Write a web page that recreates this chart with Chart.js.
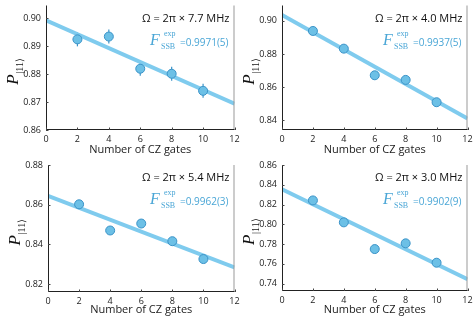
<!DOCTYPE html>
<html>
<head>
<meta charset="utf-8">
<script src="https://cdn.jsdelivr.net/npm/chart.js@4.4.1/dist/chart.umd.min.js"></script>
<style>
  body { margin: 0; background: #fff; }
  .wrap { position: relative; width: 473px; height: 316px; overflow: hidden; }
  canvas { position: absolute; }
</style>
</head>
<body>
<div class="wrap">
  <canvas id="c1" style="left:0px;top:0px;width:240px;height:156px"></canvas>
  <canvas id="c2" style="left:236px;top:0px;width:237px;height:156px"></canvas>
  <canvas id="c3" style="left:0px;top:156px;width:240px;height:160px"></canvas>
  <canvas id="c4" style="left:236px;top:156px;width:237px;height:160px"></canvas>
</div>
<script>
// x values: number of CZ gates
const gates = [2, 4, 6, 8, 10];
const fitX = [0, 12];
const xTicks = [0, 2, 4, 6, 8, 10, 12];

// panel 1: 7.7 MHz
const p1 = [0.8924, 0.8934, 0.8819, 0.8801, 0.8740];
const e1 = [0.0025, 0.0025, 0.0025, 0.0025, 0.0025];
const fit1 = [0.8992, 0.8694];
const yt1 = [0.86, 0.87, 0.88, 0.89, 0.90];
// panel 2: 4.0 MHz
const p2 = [0.8939, 0.8832, 0.8671, 0.8643, 0.8508];
const e2 = [0.0025, 0.0025, 0.0025, 0.0025, 0.0025];
const fit2 = [0.9036, 0.8410];
const yt2 = [0.84, 0.86, 0.88, 0.90];
// panel 3: 5.4 MHz
const p3 = [0.8602, 0.8470, 0.8505, 0.8416, 0.8326];
const e3 = [0.0006, 0.0006, 0.0006, 0.0006, 0.0006];
const fit3 = [0.8645, 0.8284];
const yt3 = [0.82, 0.84, 0.86, 0.88];
// panel 4: 3.0 MHz
const p4 = [0.8242, 0.8020, 0.7750, 0.7808, 0.7612];
const e4 = [0.004, 0.004, 0.004, 0.004, 0.004];
const fit4 = [0.8355, 0.7445];
const yt4 = [0.74, 0.76, 0.78, 0.80, 0.82, 0.84, 0.86];

const lineBlue = "#7fcbee";
const dotFill = "#6cc0e6";
const dotEdge = "#3b93c8";
const textBlue = "#4aa6d6";
const font = "'Open Sans', 'DejaVu Sans', sans-serif";

// error bars, frame, inner ticks and annotations
const decor = {
  id: "decor",
  beforeDatasetsDraw(chart, args, opts) {
    const ctx = chart.ctx;
    const xs = chart.scales.x, ys = chart.scales.y;
    ctx.save();
    ctx.strokeStyle = dotEdge;
    ctx.lineWidth = 1.2;
    opts.vals.forEach((v, i) => {
      const px = xs.getPixelForValue(gates[i]);
      ctx.beginPath();
      ctx.moveTo(px, ys.getPixelForValue(v - opts.errs[i]));
      ctx.lineTo(px, ys.getPixelForValue(v + opts.errs[i]));
      ctx.stroke();
    });
    ctx.restore();
  },
  afterDraw(chart, args, opts) {
    const ctx = chart.ctx;
    const a = chart.chartArea;
    const xs = chart.scales.x, ys = chart.scales.y;
    ctx.save();
    // frame
    ctx.strokeStyle = "#999";
    ctx.lineWidth = 1;
    ctx.beginPath();
    ctx.moveTo(a.right - 0.5, a.top);
    ctx.lineTo(a.right - 0.5, a.bottom);
    ctx.stroke();
    ctx.strokeStyle = "#222";
    ctx.beginPath();
    ctx.moveTo(a.left + 0.5, a.top);
    ctx.lineTo(a.left + 0.5, a.bottom - 0.5);
    ctx.lineTo(a.right, a.bottom - 0.5);
    ctx.stroke();
    // inward ticks
    ctx.strokeStyle = "#444";
    xTicks.forEach(t => {
      const px = Math.round(xs.getPixelForValue(t)) + 0.5;
      ctx.beginPath();
      ctx.moveTo(px, a.bottom);
      ctx.lineTo(px, a.bottom - 2.5);
      ctx.stroke();
    });
    ys.ticks.forEach(t => {
      const py = Math.round(ys.getPixelForValue(t.value)) + 0.5;
      ctx.beginPath();
      ctx.moveTo(a.left, py);
      ctx.lineTo(a.left + 2.5, py);
      ctx.stroke();
    });
    // y title P_|11>
    ctx.translate(a.left - 33, (a.top + a.bottom) / 2);
    ctx.rotate(-Math.PI / 2);
    ctx.fillStyle = "#111";
    ctx.textBaseline = "alphabetic";
    ctx.font = "italic 17px 'Liberation Serif', serif";
    ctx.fillText("P", -17, 5);
    ctx.font = "10px 'Liberation Serif', serif";
    ctx.fillText("|11\u27E9", -6, 10);
    ctx.restore();
    // annotations
    ctx.save();
    ctx.textAlign = "right";
    ctx.fillStyle = "#111";
    ctx.font = "11px " + font;
    ctx.fillText(opts.omega, a.right - 5, a.top + 16);
    ctx.fillStyle = textBlue;
    ctx.font = "10px " + font;
    const val = "=" + opts.fid;
    ctx.fillText(val, a.right - 6, a.top + 40);
    const w = ctx.measureText(val).width;
    const bx = a.right - 6 - w;
    ctx.textAlign = "left";
    ctx.font = "8px 'Liberation Serif', serif";
    ctx.fillText("SSB", bx - 19, a.top + 43);
    ctx.fillText("exp", bx - 16, a.top + 30);
    ctx.font = "italic 16px 'Liberation Serif', serif";
    ctx.fillText("F", bx - 30, a.top + 39);
    ctx.restore();
  }
};

function makeChart(id, vals, errs, fit, yMin, yMax, yTicks, yW, pad, xH, omega, fid) {
  new Chart(document.getElementById(id), {
    type: "scatter",
    data: {
      datasets: [
        {
          type: "line",
          data: fitX.map((x, i) => ({ x: x, y: fit[i] })),
          borderColor: lineBlue,
          borderWidth: 4,
          pointRadius: 0,
          order: 2
        },
        {
          data: gates.map((x, i) => ({ x: x, y: vals[i] })),
          backgroundColor: dotFill,
          borderColor: dotEdge,
          borderWidth: 1,
          pointRadius: 4.5,
          order: 1
        }
      ]
    },
    options: {
      responsive: false,
      animation: false,
      layout: { padding: pad },
      plugins: {
        legend: { display: false },
        tooltip: { enabled: false },
        decor: { vals: vals, errs: errs, omega: omega, fid: fid }
      },
      scales: {
        x: {
          type: "linear",
          min: 0, max: 12,
          afterBuildTicks: s => { s.ticks = xTicks.map(v => ({ value: v })); },
          afterFit: s => { s.height = xH; s.paddingLeft = 0; s.paddingRight = 0; },
          grid: { display: false, drawTicks: false },
          border: { display: false },
          ticks: { color: "#222", font: { family: font, size: 9 }, padding: 4, maxRotation: 0 },
          title: { display: true, text: "Number of CZ gates", color: "#222",
                   font: { family: font, size: 11 }, padding: { top: 0, bottom: 0 } }
        },
        y: {
          min: yMin, max: yMax,
          afterBuildTicks: s => { s.ticks = yTicks.map(v => ({ value: v })); },
          afterFit: s => { s.width = yW; s.paddingTop = 0; s.paddingBottom = 0; },
          grid: { display: false, drawTicks: false },
          border: { display: false },
          ticks: {
            color: "#222", font: { family: font, size: 9 }, padding: 5,
            callback: v => v.toFixed(2)
          }
        }
      }
    },
    plugins: [decor]
  });
}

makeChart("c1", p1, e1, fit1, 0.86, 0.9045, yt1, 46, { top: 3, right: 5, left: 0, bottom: 0 }, 26,
  "\u03A9 = 2\u03C0 \u00D7 7.7 MHz", "0.9971(5)");
makeChart("c2", p2, e2, fit2, 0.834, 0.9093, yt2, 46, { top: 3, right: 2, left: 0, bottom: 0 }, 26,
  "\u03A9 = 2\u03C0 \u00D7 4.0 MHz", "0.9937(5)");
makeChart("c3", p3, e3, fit3, 0.816, 0.88, yt3, 48, { top: 9, right: 4, left: 0, bottom: 0 }, 24,
  "\u03A9 = 2\u03C0 \u00D7 5.4 MHz", "0.9962(3)");
makeChart("c4", p4, e4, fit4, 0.7326, 0.86, yt4, 46, { top: 9, right: 2, left: 0, bottom: 0 }, 25,
  "\u03A9 = 2\u03C0 \u00D7 3.0 MHz", "0.9902(9)");
</script>
</body>
</html>
